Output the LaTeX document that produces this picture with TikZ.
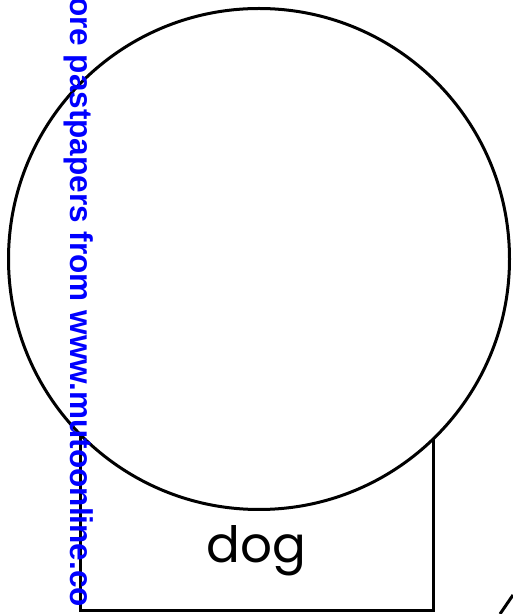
\documentclass[tikz,border=0pt]{standalone}
\usepackage{fontspec}
\newfontfamily\wmfont{Liberation Sans}
\newfontfamily\dogfont{Poppins}
\begin{document}
\begin{tikzpicture}[x=1pt,y=1pt]
\tikzset{
  shape line/.style={draw=black, line width=3pt},
  watermark/.style={text=blue, font=\wmfont\bfseries\fontsize{31.5}{36}\selectfont, inner sep=0pt, rotate=-90, anchor=base west}
}
\useasboundingbox (0,0) rectangle (513,614);
\node[shape line, minimum width=353.5pt, minimum height=310pt, anchor=south west, inner sep=0pt] (box) at (78.5,2.3) {};
\node[shape line, fill=white, circle, minimum size=501pt, inner sep=0pt] (ball) at (259,355) {};
\node[font=\dogfont\fontsize{50}{54}\selectfont, inner sep=0pt, anchor=base] (dog) at (256,51) {dog};
\coordinate (e1) at (500,0);
\coordinate (e2) at (513,19);
\draw[shape line] (e1) -- (e2);
\node[watermark] (wm) at (70,617) {ore pastpapers from www.mutoonline.co};
\end{tikzpicture}
\end{document}
